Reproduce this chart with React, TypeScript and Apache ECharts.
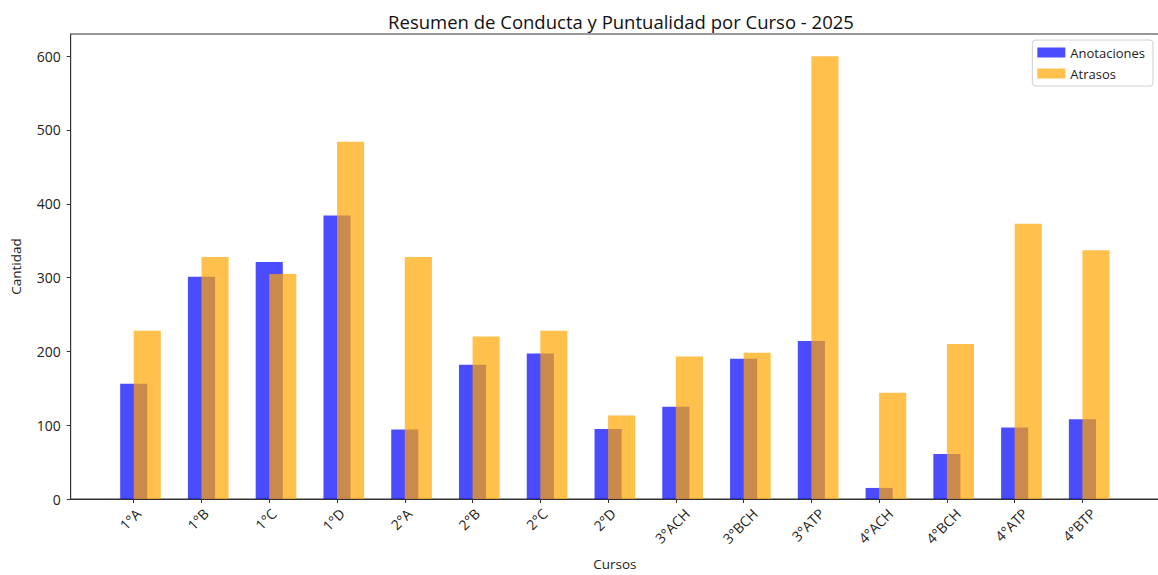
import React, { useEffect, useRef } from "react";
import * as echarts from "echarts";

const cursos = ["1°A", "1°B", "1°C", "1°D", "2°A", "2°B", "2°C", "2°D", "3°ACH", "3°BCH", "3°ATP", "4°ACH", "4°BCH", "4°ATP", "4°BTP"];
const anotaciones = [156, 301, 321, 384, 94, 182, 197, 95, 125, 190, 214, 15, 61, 97, 108];
const atrasos = [228, 328, 305, 484, 328, 220, 228, 113, 193, 198, 600, 144, 210, 373, 337];
const yTicks = [0, 100, 200, 300, 400, 500, 600];

const FONT = "Open Sans";
const TICK_FS = 14;

export default function App() {
  const ref = useRef<HTMLDivElement>(null);
  useEffect(() => {
    if (!ref.current) return;
    const chart = echarts.init(ref.current, null, { renderer: "svg" });
    const ctx = document.createElement("canvas").getContext("2d")!;
    ctx.font = `${TICK_FS}px "${FONT}"`;
    const rich: Record<string, any> = {};
    cursos.forEach((c, i) => {
      const w = ctx.measureText(c).width;
      const p = w / 2;
      rich["c" + i] = { padding: [p, p + 5, 5, 0], fontSize: TICK_FS, fontFamily: FONT, color: "#222" };
    });
    const xIdx = cursos.map((_, i) => i);
    chart.setOption({
      animation: false,
      textStyle: { fontFamily: FONT },
      title: {
        text: "Resumen de Conducta y Puntualidad por Curso - 2025",
        left: 616,
        textAlign: "center",
        top: 7,
        textStyle: { fontSize: 18.5, fontWeight: "normal", color: "#111", fontFamily: FONT },
      },
      legend: {
        orient: "vertical",
        right: 5,
        top: 40,
        icon: "rect",
        itemWidth: 28,
        itemHeight: 10,
        itemGap: 8,
        padding: [6, 8, 6, 5],
        borderColor: "#d0d0d0",
        borderWidth: 1,
        borderRadius: 3,
        textStyle: { fontSize: 13, color: "#222", fontFamily: FONT },
        data: ["Anotaciones", "Atrasos"],
      },
      grid: {
        left: 70.7,
        right: -1,
        top: 34,
        bottom: 76,
        containLabel: false,
        outerBoundsMode: "none",
        show: true,
        borderColor: "#333",
        borderWidth: 1,
      },
      xAxis: {
        type: "value",
        min: -0.93,
        max: 15.13,
        name: "Cursos",
        nameLocation: "middle",
        nameGap: 58,
        nameTextStyle: { fontSize: 13.5, color: "#222", fontFamily: FONT },
        splitLine: { show: false },
        axisLine: { show: true, onZero: false, lineStyle: { color: "#333" } },
        axisTick: { show: true, length: 4, lineStyle: { color: "#333" }, customValues: xIdx },
        axisLabel: {
          customValues: xIdx,
          rotate: 45,
          align: "center",
          verticalAlign: "middle",
          margin: 12,
          formatter: (v: number) => {
            const i = Math.round(v);
            return `{c${i}|${cursos[i]}}`;
          },
          rich,
        },
      },
      yAxis: {
        type: "value",
        min: 0,
        max: 630,
        name: "Cantidad",
        nameLocation: "middle",
        nameGap: 48,
        nameTextStyle: { fontSize: 13.5, color: "#222", fontFamily: FONT },
        splitLine: { show: false },
        axisLine: { show: true, onZero: false, lineStyle: { color: "#333" } },
        axisTick: { show: true, length: 4, lineStyle: { color: "#333" }, customValues: yTicks },
        axisLabel: { customValues: yTicks, fontSize: TICK_FS, color: "#222", margin: 10, fontFamily: FONT },
      },
      series: [
        {
          name: "Anotaciones",
          type: "bar",
          barWidth: 27.1,
          barGap: "-100%",
          itemStyle: { color: "#0000ff", opacity: 0.7 },
          data: anotaciones.map((v, i) => [i, v]),
        },
        {
          name: "Atrasos",
          type: "bar",
          barWidth: 27.1,
          barGap: "-100%",
          itemStyle: { color: "#ffa500", opacity: 0.7 },
          data: atrasos.map((v, i) => [i + 0.2, v]),
        },
      ],
    });
    return () => chart.dispose();
  }, []);
  return <div ref={ref} style={{ position: "absolute", left: 0, top: 0, width: 1158, height: 575 }} />;
}
